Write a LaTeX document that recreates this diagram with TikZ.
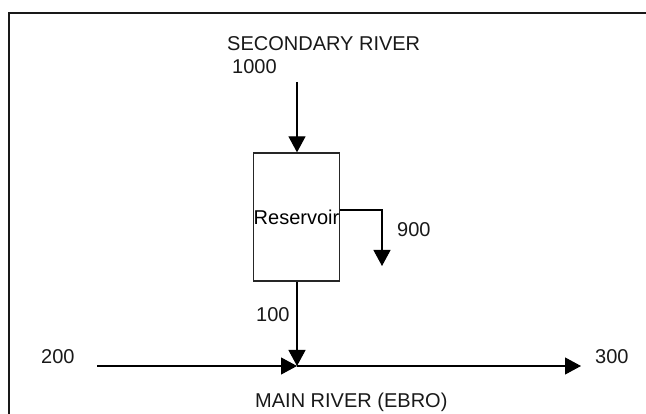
\documentclass[tikz,border=0pt]{standalone}
\usepackage{fontspec}
\setmainfont{Liberation Sans}
\usetikzlibrary{arrows.meta}
\begin{document}
\begin{tikzpicture}[x=1pt,y=-1pt,
  lbl/.style={inner sep=0pt,anchor=base west,font=\fontsize{20}{24}\selectfont,text=black!90},
  flow/.style={line width=1.2pt,-{Triangle[width=17pt,length=16pt]}},
  frameline/.style={line width=2.4pt,draw=black!90},
  resbox/.style={draw=black!85,line width=1.3pt,minimum width=85pt,minimum height=128pt,inner sep=0pt,font=\fontsize{20}{24}\selectfont}]
\useasboundingbox (0,0) rectangle (646,414);
\fill[white] (0,0) rectangle (646,414);
% frame (only top and left edges visible)
\coordinate (ftl) at (9,13);
\coordinate (ftr) at (646,13);
\coordinate (fbl) at (9,414);
\draw[frameline] (ftr) -- (ftl) -- (fbl);
% labels
\node[lbl] (sec) at (227,51) {SECONDARY RIVER};
\node[lbl] (q1000) at (232,74) {1000};
\node[lbl] (q900) at (397,237) {900};
\node[lbl] (q100) at (256,322) {100};
\node[lbl] (q200) at (41,364) {200};
\node[lbl] (q300) at (595,364) {300};
\node[lbl] (main) at (255,407) {MAIN RIVER (EBRO)};
% reservoir
\node[resbox] (res) at (296.5,217) {Reservoir};
% coordinates
\coordinate (inTop) at (297,82);
\coordinate (o1) at (382,210);
\coordinate (o2) at (382,266);
\coordinate (mStart) at (97,366);
\coordinate (junc) at (297,366);
\coordinate (mEnd) at (581,366);
% flows
\draw[flow] (inTop) -- (inTop |- res.north);
\draw[flow] (res.east |- o1) -- (o1) -- (o2);
\draw[flow] (res.south -| inTop) -- (junc);
\draw[flow] (mStart) -- (junc);
\draw[flow] (junc) -- (mEnd);
\end{tikzpicture}
\end{document}
